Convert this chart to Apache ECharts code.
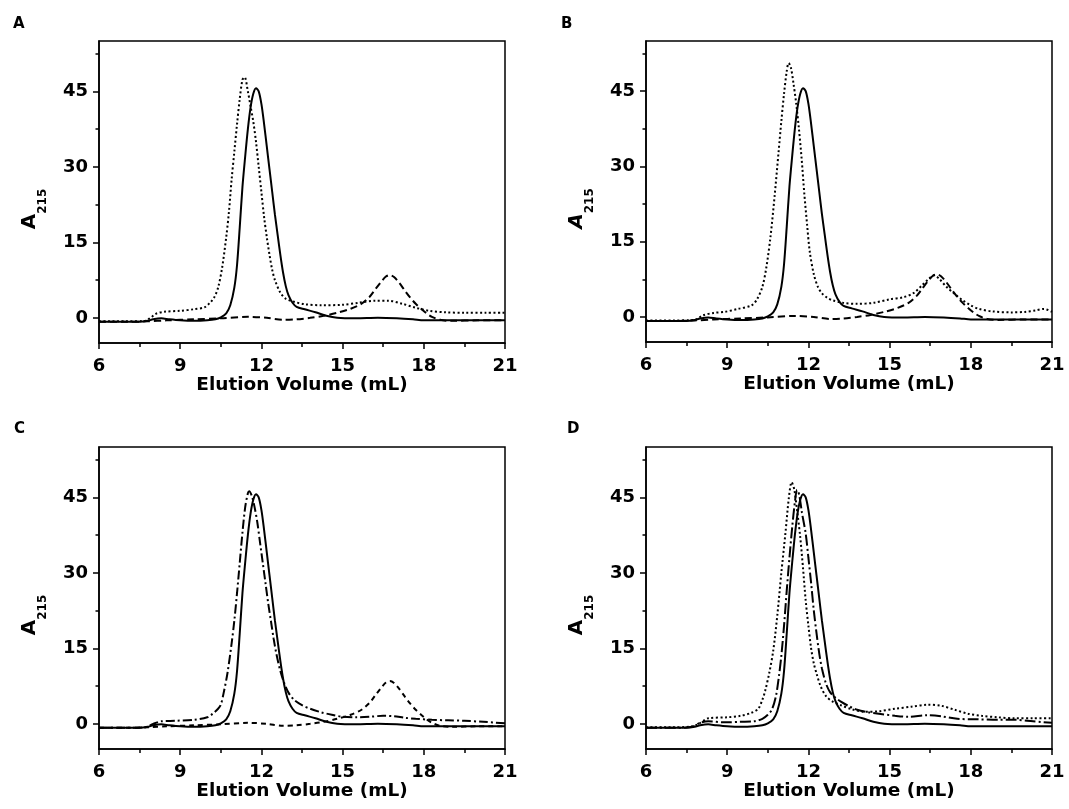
<!DOCTYPE html>
<html><head><meta charset="utf-8">
<script src="https://cdn.jsdelivr.net/npm/echarts@6/dist/echarts.min.js"></script>
<style>html,body{margin:0;padding:0;background:#fff}#c{width:1069px;height:809px}</style>
</head><body><div id="c"></div>
<script>
// ---- data ----
const panelLabels = ['A', 'B', 'C', 'D'];
const xTicks = [6, 9, 12, 15, 18, 21];
const yTicks = [0, 15, 30, 45];
const yMinorTicks = [7.5, 22.5, 37.5, 52.5];
const xTitle = 'Elution Volume (mL)';

// solid trace (same reference sample in all panels)
const solid = [[6,-0.8],[6.5,-0.8],[7,-0.8],[7.5,-0.8],[7.8,-0.6],[8.0,-0.3],[8.3,-0.1],[8.6,-0.3],[9.0,-0.5],[9.5,-0.6],[10.0,-0.5],[10.3,-0.3],[10.5,0.1],[10.7,0.9],[10.85,2.5],[11.0,6],[11.1,10.5],[11.2,18],[11.3,26],[11.4,32],[11.5,37.5],[11.6,41.8],[11.7,44.5],[11.8,45.6],[11.9,45],[12.0,42.5],[12.1,38.5],[12.2,34],[12.3,29.5],[12.4,25],[12.5,20.5],[12.6,16.5],[12.7,12.5],[12.8,9],[12.9,6.3],[13.0,4.5],[13.15,3.0],[13.3,2.2],[13.6,1.7],[14.0,1.1],[14.4,0.4],[14.8,0],[15.5,-0.1],[16.3,0],[17.0,-0.1],[17.6,-0.3],[18.0,-0.5],[19,-0.5],[20,-0.5],[21,-0.5]];

// dashed trace (panels A, B, C)
const dashed = [[6,-0.8],[7,-0.8],[7.8,-0.7],[8.5,-0.5],[9.5,-0.3],[10.5,-0.1],[11.5,0.2],[12.2,0],[12.8,-0.4],[13.3,-0.3],[13.8,0],[14.3,0.4],[14.8,1.0],[15.3,1.8],[15.7,2.8],[16.0,4.2],[16.2,5.6],[16.4,7],[16.6,8.2],[16.75,8.5],[16.9,8.1],[17.1,6.9],[17.3,5.4],[17.5,4.0],[17.7,2.8],[17.9,1.8],[18.1,0.9],[18.3,0.2],[18.6,-0.4],[19,-0.6],[20,-0.5],[21,-0.5]];

// panel A dotted
const dottedA = [[6,-0.7],[7,-0.7],[7.7,-0.6],[7.9,0],[8.1,0.8],[8.4,1.2],[9,1.4],[9.5,1.7],[9.9,2.1],[10.1,3],[10.25,4],[10.4,6],[10.55,10],[10.7,16],[10.8,21],[10.9,27.5],[11.0,33],[11.1,38.5],[11.2,43.5],[11.3,47.3],[11.38,47.8],[11.5,45],[11.6,42],[11.7,39],[11.8,35],[11.9,30],[12.0,25],[12.1,20],[12.2,16],[12.3,12.5],[12.4,9.5],[12.5,7.5],[12.7,5],[12.9,3.8],[13.2,3.2],[13.6,2.7],[14.2,2.5],[15,2.6],[15.6,3.0],[16.2,3.4],[16.7,3.4],[17.2,2.8],[17.7,2.0],[18.2,1.4],[18.8,1.1],[19.5,1.0],[20.3,1.0],[21,1.0]];

// panel B dotted
const dottedB = [[6,-0.7],[7,-0.7],[7.8,-0.6],[8.1,0.3],[8.5,0.8],[8.9,1.0],[9.4,1.6],[9.9,2.3],[10.1,3.5],[10.3,6],[10.45,10],[10.6,16],[10.75,24],[10.9,33],[11.0,39],[11.1,44.5],[11.2,49],[11.27,50.6],[11.35,49.8],[11.45,46.5],[11.55,42.5],[11.65,37.5],[11.75,31.5],[11.85,24.5],[11.95,18.5],[12.05,13],[12.2,8.5],[12.35,6.0],[12.5,4.7],[12.7,3.8],[12.9,3.3],[13.3,2.8],[13.8,2.6],[14.4,2.8],[15.0,3.5],[15.5,3.9],[15.9,4.8],[16.2,6.3],[16.45,7.6],[16.65,8.3],[16.85,7.5],[17.1,6.0],[17.4,4.6],[17.7,3.3],[18.0,2.3],[18.3,1.6],[18.8,1.1],[19.5,0.9],[20.0,1.0],[20.4,1.3],[20.7,1.6],[21,1.0]];

// panel C dash-dot
const dashDotC = [[6,-0.8],[7,-0.8],[7.7,-0.7],[8.0,0],[8.3,0.5],[8.8,0.6],[9.5,0.8],[10.0,1.3],[10.2,2],[10.4,3],[10.5,3.8],[10.6,6],[10.75,10.2],[10.9,16],[11.0,20.5],[11.1,26],[11.2,32],[11.3,38],[11.4,43],[11.5,45.8],[11.55,46.2],[11.65,45.2],[11.75,43],[11.85,40],[11.95,36],[12.05,32],[12.15,28],[12.25,24],[12.35,20.5],[12.45,17],[12.55,14],[12.7,10.5],[12.85,8],[13.0,6.2],[13.2,4.8],[13.5,3.7],[13.8,3],[14.2,2.3],[14.6,1.8],[15.0,1.4],[15.5,1.3],[16.0,1.4],[16.5,1.6],[16.9,1.5],[17.3,1.2],[17.7,1.0],[18.3,0.8],[18.9,0.7],[19.5,0.6],[20.2,0.4],[21,0.1]];

// panel D dotted
const dottedD = [[6,-0.7],[7,-0.7],[7.7,-0.5],[7.95,0],[8.3,1.1],[9.0,1.3],[9.5,1.6],[9.9,2.2],[10.15,3],[10.3,4.8],[10.4,6.5],[10.55,10],[10.7,14.5],[10.85,21.5],[11.0,30],[11.15,37.8],[11.28,45],[11.38,48],[11.48,46.5],[11.58,42.5],[11.7,37],[11.8,31],[11.9,24.5],[12.0,19.5],[12.1,15],[12.2,12],[12.3,10],[12.45,7.5],[12.65,5.5],[12.9,4.4],[13.2,3.7],[13.6,2.9],[14.1,2.4],[14.6,2.5],[15.2,3.0],[15.8,3.4],[16.4,3.8],[16.9,3.6],[17.4,2.8],[17.9,2.0],[18.4,1.6],[19.0,1.3],[19.6,1.1],[20.3,1.1],[21,1.1]];

// panel D dash-dot
const dashDotD = [[6,-0.8],[7,-0.8],[7.7,-0.6],[8.0,0.2],[8.3,0.5],[8.9,0.3],[9.5,0.4],[10.0,0.5],[10.3,1],[10.5,1.8],[10.65,2.8],[10.8,5.5],[10.9,9],[11.0,13.5],[11.1,19.5],[11.2,26.5],[11.3,33],[11.4,39],[11.5,44],[11.58,46.5],[11.66,45.5],[11.76,42],[11.9,37.8],[12.0,33],[12.1,28],[12.2,22.5],[12.3,18],[12.4,14],[12.5,11],[12.65,8],[12.8,6.3],[13.0,5.2],[13.2,4.4],[13.5,3.5],[13.8,2.8],[14.2,2.3],[14.6,2.0],[15.2,1.6],[15.7,1.4],[16.4,1.7],[16.9,1.5],[17.5,1.0],[18.2,0.9],[19,0.8],[19.6,0.8],[20.3,0.5],[21,0.2]];

// ---- styles / layout ----
const FONT = '"DejaVu Sans", "Liberation Sans", Arial, sans-serif';
const STY = {
  solid:   {type: 'solid', width: 2},
  dot:     {type: [2, 2.5], width: 2},
  dash:    {type: [7, 4], width: 2},
  shortdash: {type: [5, 4], width: 2},
  dashdot: {type: [9, 3, 2, 3], width: 2},
  longdashdot: {type: [11, 3, 2, 3], width: 2}
};
const panels = [
  {grid: {left: 99, top: 41, width: 406, height: 302}, label: [13, 17], italic: false,
   curves: [[dashed, 'dash'], [dottedA, 'dot'], [solid, 'solid']]},
  {grid: {left: 646, top: 41, width: 406, height: 301}, label: [561, 17], italic: true,
   curves: [[dashed, 'dash'], [dottedB, 'dot'], [solid, 'solid']]},
  {grid: {left: 99, top: 447, width: 406, height: 302}, label: [14, 422], italic: false,
   curves: [[dashed, 'shortdash'], [dashDotC, 'dashdot'], [solid, 'solid']]},
  {grid: {left: 646, top: 447, width: 406, height: 302}, label: [567, 422], italic: false,
   curves: [[dottedD, 'dot'], [dashDotD, 'longdashdot'], [solid, 'solid']]}
];

const grids = [], xAxes = [], yAxes = [], series = [], graphics = [];
panels.forEach((p, i) => {
  grids.push(Object.assign({show: true, borderColor: '#000', borderWidth: 1.5, backgroundColor: 'transparent'}, p.grid));
  xAxes.push({
    type: 'value', gridIndex: i, min: xTicks[0], max: xTicks[xTicks.length - 1], interval: 3,
    axisLine: {show: true, onZero: false, lineStyle: {color: '#000', width: 1.5}},
    axisTick: {show: true, inside: false, length: 6, lineStyle: {color: '#000', width: 1.5}},
    minorTick: {show: true, splitNumber: 2, length: 4, lineStyle: {color: '#000', width: 1.5}},
    axisLabel: {show: true, margin: 14, color: '#000', fontSize: 18, fontWeight: 'bold', fontFamily: FONT},
    splitLine: {show: false},
    name: xTitle, nameLocation: 'middle', nameGap: 30,
    nameTextStyle: {color: '#000', fontSize: 18.5, fontWeight: 'bold', fontFamily: FONT}
  });
  yAxes.push({
    type: 'value', gridIndex: i, min: -5, max: 55, position: 'left',
    axisLine: {show: true, onZero: false, lineStyle: {color: '#000', width: 1.5}},
    axisTick: {show: true, inside: false, length: 6, customValues: yTicks, lineStyle: {color: '#000', width: 1.5}},
    axisLabel: {show: true, margin: 11, customValues: yTicks, color: '#000', fontSize: 18, fontWeight: 'bold', fontFamily: FONT},
    splitLine: {show: false},
    name: '{a|A}{s|215}', nameLocation: 'middle', nameGap: 50, nameRotate: 90,
    nameTextStyle: {
      padding: [0, 34, 0, 0],
      rich: {
        a: {fontSize: 20, fontWeight: 'bold', fontStyle: p.italic ? 'italic' : 'normal', fontFamily: FONT, color: '#000', padding: [0, 0, 9, 0], verticalAlign: 'bottom'},
        s: {fontSize: 12, fontWeight: 'bold', fontFamily: FONT, color: '#000', verticalAlign: 'bottom'}
      }
    }
  });
  yAxes.push({
    type: 'value', gridIndex: i, min: -5, max: 55, position: 'left',
    axisLine: {show: false},
    axisTick: {show: true, inside: false, length: 3.5, customValues: yMinorTicks, lineStyle: {color: '#000', width: 1.5}},
    axisLabel: {show: false},
    splitLine: {show: false}
  });
  p.curves.forEach(([data, st]) => {
    series.push({
      type: 'line', xAxisIndex: i, yAxisIndex: 2 * i, data: data,
      showSymbol: false, symbol: 'none', smooth: 0.3,
      lineStyle: Object.assign({color: '#000', cap: 'butt'}, STY[st]),
      silent: true, animation: false
    });
  });
  graphics.push({type: 'text', left: p.label[0], top: p.label[1],
    style: {text: panelLabels[i], font: 'bold 15px ' + FONT, fill: '#000'}});
});

const chart = echarts.init(document.getElementById('c'), null, {renderer: 'canvas'});
chart.setOption({
  backgroundColor: '#fff', animation: false,
  grid: grids, xAxis: xAxes, yAxis: yAxes, series: series, graphic: graphics
});
</script>
</body></html>
